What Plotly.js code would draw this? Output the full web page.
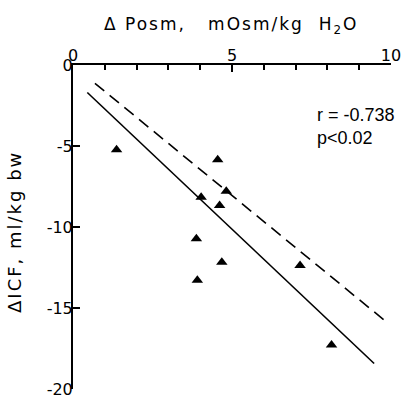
<!DOCTYPE html>
<html>
<head>
<meta charset="utf-8">
<script src="https://cdn.plot.ly/plotly-3.0.1.min.js"></script>
<style>
  html, body { margin: 0; padding: 0; background: #fff; }
  #chart { width: 401px; height: 398px; }
</style>
</head>
<body>
<div id="chart"></div>
<script>
// Change in plasma osmolality vs change in intracellular fluid volume
const dPosm = [1.37, 4.55, 4.82, 4.03, 4.61, 3.88, 4.68, 3.91, 7.14, 8.13];
const dICF  = [-5.23, -5.85, -7.8, -8.17, -8.68, -10.73, -12.17, -13.29, -12.37, -17.29];

// Regression line (solid) and reference line (dashed): slope, intercept, x extent
const fitLine = { slope: -1.854, intercept: -0.866, xs: [0.45, 9.47] };
const refLine = { slope: -1.607, intercept: -0.021, xs: [0.69, 9.78] };

const xTicks = [0, 5, 10];
const yTicks = [0, -5, -10, -15, -20];
const statsText = ["r = -0.738", "p<0.02"];

const wide = "DejaVu Sans, Verdana, sans-serif";
const narrow = "Liberation Sans, Arial, sans-serif";

function lineY(l) { return l.xs.map(x => l.intercept + l.slope * x); }
function spaced(s) { return '<span style="letter-spacing:2px">' + s + '</span>'; }

const traces = [
  {
    x: refLine.xs, y: lineY(refLine), mode: "lines",
    line: { color: "#000", width: 1.6, dash: "12px,7px" }, hoverinfo: "skip"
  },
  {
    x: fitLine.xs, y: lineY(fitLine), mode: "lines",
    line: { color: "#000", width: 1.6 }, hoverinfo: "skip"
  },
  {
    x: dPosm, y: dICF, mode: "markers",
    marker: { symbol: "triangle-up", size: 10, color: "#000" }
  }
];

const layout = {
  width: 401, height: 398,
  margin: { l: 73, r: 10, t: 65, b: 9 },
  paper_bgcolor: "#fff", plot_bgcolor: "#fff",
  showlegend: false,
  font: { family: wide, color: "#000", size: 16 },
  xaxis: {
    side: "top", range: [0, 10], showgrid: false, zeroline: false,
    showline: true, linecolor: "#000", linewidth: 2,
    tickmode: "array", tickvals: xTicks, ticktext: xTicks.map(String),
    ticks: "inside", ticklen: 7, tickwidth: 2, tickcolor: "#000",
    ticklabelstandoff: -4, ticklabeloverflow: "allow",
    minor: { dtick: 1, ticks: "inside", ticklen: 5, tickwidth: 2, tickcolor: "#000", showgrid: false },
    tickfont: { family: wide, size: 16 }
  },
  yaxis: {
    range: [-20, 0], showgrid: false, zeroline: false,
    showline: true, linecolor: "#000", linewidth: 2,
    tickmode: "array", tickvals: yTicks, ticktext: yTicks.map(String),
    ticks: "inside", ticklen: 7, tickwidth: 2, tickcolor: "#000",
    ticklabelstandoff: -5, ticklabeloverflow: "allow",
    tickfont: { family: wide, size: 16 }
  },
  annotations: [
    {
      text: spaced("\u0394 Posm,   mOsm/kg  H<sub>2</sub>O"), xref: "paper", yref: "paper",
      x: 0.09, y: 1.123, showarrow: false, font: { family: wide, size: 17 },
      xanchor: "left", yanchor: "middle"
    },
    {
      text: spaced("\u0394ICF, ml/kg bw"), xref: "paper", yref: "paper",
      x: -0.182, y: 0.485, textangle: -90, showarrow: false, font: { family: wide, size: 18 },
      xanchor: "center", yanchor: "middle"
    },
    {
      text: statsText[0], xref: "paper", yref: "paper",
      x: 0.761, y: 0.846, showarrow: false, font: { family: narrow, size: 18 },
      xanchor: "left", yanchor: "middle"
    },
    {
      text: statsText[1], xref: "paper", yref: "paper",
      x: 0.761, y: 0.775, showarrow: false, font: { family: narrow, size: 18 },
      xanchor: "left", yanchor: "middle"
    }
  ]
};

Plotly.newPlot("chart", traces, layout, { displayModeBar: false, staticPlot: true });
</script>
</body>
</html>
